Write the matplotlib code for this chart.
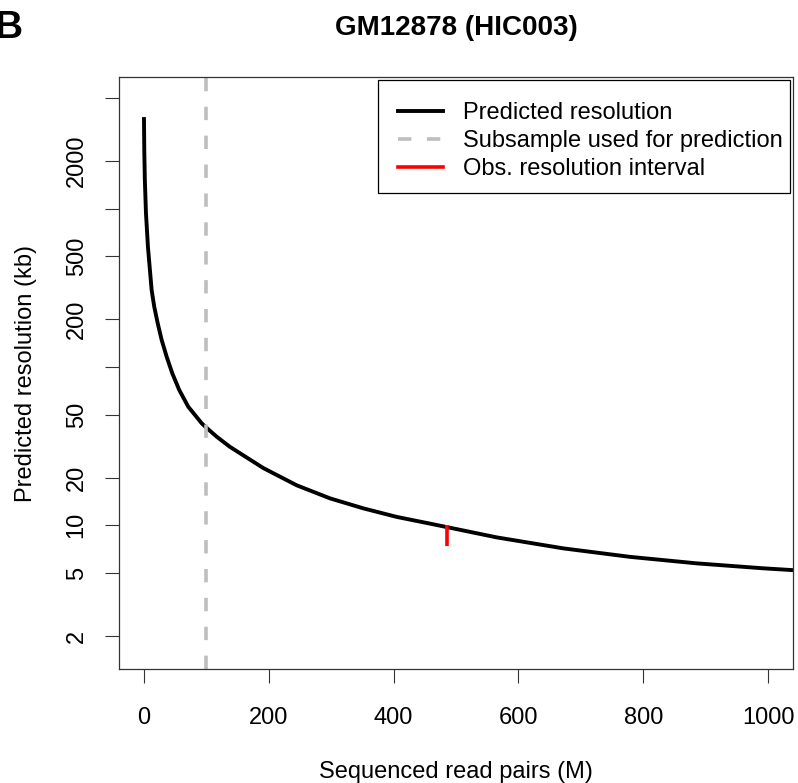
import matplotlib
matplotlib.use('Agg')
import matplotlib.pyplot as plt
from matplotlib.lines import Line2D
from matplotlib.patches import Rectangle

plt.rcParams['font.family'] = ['Liberation Sans', 'DejaVu Sans']

# predicted resolution curve
reads_m = [0, 0.5, 1.4, 3.2, 6.4, 12.3, 16.5, 22.0, 28.4, 36.4, 45.4, 56.6,
           71.0, 92.5, 98.2, 116.5, 137.8, 191.2, 244.7, 298.1, 351.4, 405.0,
           458.3, 565.2, 672.0, 778.8, 885.7, 992.5, 1040]
resolution_kb = [3790, 2350, 1520, 940, 572, 306, 240, 189, 148, 116, 91.2,
                 71.5, 56.1, 44.1, 42.0, 36.3, 31.3, 23.0, 17.9, 14.8, 12.8,
                 11.3, 10.25, 8.39, 7.15, 6.32, 5.75, 5.35, 5.21]

subsample_m = 100
obs_x = 485
obs_interval = [7.4, 10.1]

yticks = [2, 5, 10, 20, 50, 100, 200, 500, 1000, 2000, 5000]
ytick_labels = ['2', '5', '10', '20', '50', '', '200', '500', '', '2000', '']
xticks = [0, 200, 400, 600, 800, 1000]

W, H = 798, 783
fig = plt.figure(figsize=(W / 100, H / 100), dpi=100)
ax = fig.add_axes([119 / W, 1 - 669 / H, (793 - 119) / W, (669 - 77) / H])

ax.plot(reads_m, resolution_kb, color='black', lw=2.8,
        solid_capstyle='butt', solid_joinstyle='round')
ax.axvline(subsample_m, color='#bebebe', lw=2.6, dashes=(3.7, 4.3))
ax.plot([obs_x, obs_x], obs_interval, color='red', lw=2.6, solid_capstyle='butt')

ax.set_yscale('log')
ax.set_xlim(-40, 1040)
ax.set_ylim(1.237, 6790)
ax.minorticks_off()
ax.set_yticks(yticks)
ax.set_yticklabels(ytick_labels, rotation=90, va='center')
ax.set_xticks(xticks)
ax.set_xticklabels([str(t) for t in xticks])
ax.tick_params(axis='both', length=10, width=0.8, color='#333333',
               labelsize=17)
ax.tick_params(axis='x', pad=17.5)
ax.tick_params(axis='y', pad=12.5)

for sp in ax.spines.values():
    sp.set_color('#333333')
    sp.set_linewidth(0.9)

ax.set_xlabel('Sequenced read pairs (M)', fontsize=17, labelpad=23)
ax.set_ylabel('Predicted resolution (kb)', fontsize=17, labelpad=21)

fig.text(456 / W, 1 - 28 / H, 'GM12878 (HIC003)', fontsize=20,
         fontweight='bold', ha='center', va='center')
fig.text(-6 / W, 1 - 28 / H, 'B', fontsize=28, fontweight='bold',
         ha='left', va='center')

# legend frame drawn by hand so the padding matches R's legend box
fig.patches.append(Rectangle((378 / W, 1 - 193 / H), 412 / W, 113 / H,
                             transform=fig.transFigure, facecolor='white',
                             edgecolor='black', lw=0.9, zorder=3))

handles = [Line2D([], [], color='black', lw=2.8),
           Line2D([], [], color='#bebebe', lw=2.6, dashes=(3.7, 4.3)),
           Line2D([], [], color='red', lw=2.6)]
labels = ['Predicted resolution', 'Subsample used for prediction',
          'Obs. resolution interval']
leg = fig.legend(handles, labels, loc='upper left',
                 bbox_to_anchor=(398 / W, 1 - 102 / H),
                 bbox_transform=fig.transFigure, borderaxespad=0,
                 fontsize=17, frameon=False, handlelength=1.9,
                 handletextpad=0.85, labelspacing=0.26, borderpad=0)
leg.set_zorder(5)

fig.savefig('out.png', dpi=100)
